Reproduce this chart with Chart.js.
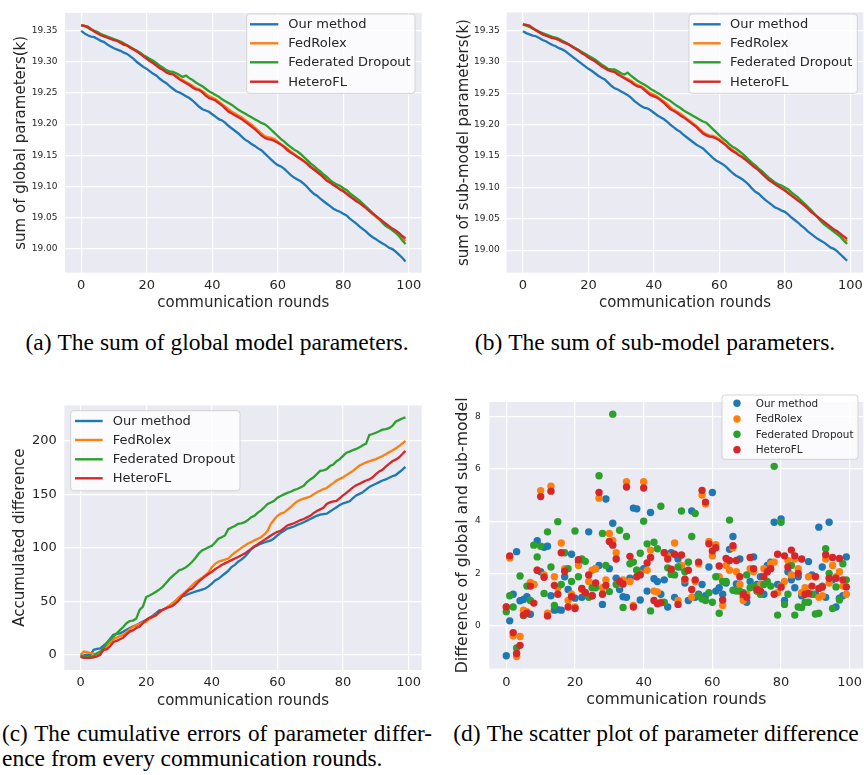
<!DOCTYPE html>
<html><head><meta charset="utf-8">
<script src="https://cdn.jsdelivr.net/npm/chart.js@4.4.0/dist/chart.umd.min.js"></script>
<style>
html,body{margin:0;padding:0;background:#fff;width:864px;height:775px;overflow:hidden;position:relative;}
canvas{position:absolute;display:block;}
.cap{position:absolute;font-family:"Liberation Serif","Times New Roman",serif;font-size:23.5px;color:#000;white-space:nowrap;line-height:25px;}
.lab{margin-right:6px;}
</style></head><body>
<canvas id="ca" width="432" height="320" style="left:0;top:0"></canvas>
<canvas id="cb" width="445" height="320" style="left:432px;top:0"></canvas>
<canvas id="cc" width="432" height="320" style="left:0;top:390px"></canvas>
<canvas id="cd" width="445" height="322" style="left:432px;top:388px"></canvas>
<div class="cap" style="left:0;width:434px;top:330px;text-align:center"><span class="lab">(a)</span>The sum of global model parameters.</div>
<div class="cap" style="left:432px;width:446px;top:330px;text-align:center"><span class="lab">(b)</span>The sum of sub-model parameters.</div>
<div class="cap" id="c1" style="left:2px;width:430px;top:721px;font-size:23.2px;text-align:justify;text-align-last:justify">(c) The cumulative errors of parameter differ-</div>
<div class="cap" style="left:2px;top:746px">ence from every communication rounds.</div>
<div class="cap" style="left:432px;width:448px;top:721px;text-align:center"><span class="lab">(d)</span>The scatter plot of parameter difference</div>
<script>
const seriesNames = ['Our method', 'FedRolex', 'Federated Dropout', 'HeteroFL'];
const seriesColors = ['#1f77b4', '#ff7f0e', '#2ca02c', '#d62728'];
const rounds = [0,1,2,3,4,5,6,7,8,9,10,11,12,13,14,15,16,17,18,19,20,21,22,23,24,25,26,27,28,29,30,31,32,33,34,35,36,37,38,39,40,41,42,43,44,45,46,47,48,49,50,51,52,53,54,55,56,57,58,59,60,61,62,63,64,65,66,67,68,69,70,71,72,73,74,75,76,77,78,79,80,81,82,83,84,85,86,87,88,89,90,91,92,93,94,95,96,97,98,99];
const xTicks = [0, 20, 40, 60, 80, 100];
const xTickLabels = ['0', '20', '40', '60', '80', '100'];
const sumTicks = [19.00, 19.05, 19.10, 19.15, 19.20, 19.25, 19.30, 19.35];
const sumTickLabels = ['19.00', '19.05', '19.10', '19.15', '19.20', '19.25', '19.30', '19.35'];
const accTicks = [0, 50, 100, 150, 200];
const accTickLabels = ['0', '50', '100', '150', '200'];
const diffTicks = [0, 2, 4, 6, 8];
const diffTickLabels = ['0', '2', '4', '6', '8'];

// (a) sum of global parameters (k)
const aOurs = [19.350,19.346,19.343,19.341,19.340,19.337,19.334,19.332,19.328,19.325,19.322,19.320,19.318,19.315,19.313,19.309,19.305,19.300,19.296,19.292,19.289,19.285,19.281,19.278,19.273,19.269,19.266,19.261,19.257,19.253,19.251,19.248,19.245,19.242,19.238,19.233,19.228,19.224,19.222,19.220,19.216,19.212,19.208,19.206,19.202,19.197,19.193,19.189,19.185,19.180,19.175,19.172,19.168,19.165,19.161,19.158,19.153,19.148,19.143,19.138,19.134,19.132,19.128,19.123,19.118,19.114,19.111,19.108,19.104,19.099,19.093,19.088,19.085,19.080,19.076,19.072,19.068,19.064,19.061,19.059,19.056,19.053,19.048,19.044,19.040,19.035,19.031,19.027,19.022,19.018,19.015,19.011,19.008,19.005,19.001,18.999,18.995,18.990,18.985,18.979];
const aFedRolex = [19.360,19.358,19.356,19.353,19.350,19.347,19.344,19.342,19.340,19.338,19.336,19.334,19.331,19.328,19.326,19.323,19.320,19.317,19.314,19.310,19.306,19.302,19.299,19.295,19.292,19.288,19.285,19.282,19.281,19.278,19.274,19.271,19.268,19.265,19.262,19.258,19.256,19.253,19.249,19.245,19.243,19.240,19.236,19.232,19.228,19.224,19.220,19.217,19.214,19.211,19.207,19.203,19.199,19.195,19.190,19.185,19.181,19.179,19.178,19.176,19.172,19.168,19.164,19.160,19.156,19.152,19.148,19.145,19.141,19.137,19.132,19.128,19.124,19.119,19.115,19.110,19.106,19.103,19.099,19.096,19.093,19.089,19.085,19.081,19.077,19.073,19.069,19.065,19.060,19.055,19.051,19.047,19.042,19.038,19.034,19.030,19.026,19.022,19.017,19.012];
const aFedDropout = [19.359,19.358,19.355,19.352,19.350,19.348,19.345,19.343,19.341,19.339,19.337,19.335,19.333,19.330,19.327,19.324,19.321,19.318,19.315,19.311,19.308,19.305,19.302,19.298,19.294,19.291,19.287,19.285,19.284,19.282,19.279,19.276,19.278,19.274,19.271,19.267,19.264,19.261,19.257,19.253,19.250,19.247,19.244,19.240,19.237,19.234,19.231,19.227,19.223,19.220,19.217,19.214,19.211,19.208,19.205,19.202,19.200,19.196,19.191,19.186,19.181,19.176,19.172,19.167,19.163,19.159,19.156,19.152,19.147,19.142,19.137,19.133,19.128,19.124,19.119,19.115,19.110,19.106,19.103,19.101,19.097,19.094,19.089,19.085,19.081,19.077,19.072,19.067,19.062,19.057,19.052,19.047,19.041,19.036,19.033,19.029,19.025,19.020,19.013,19.007];
const aHeteroFL = [19.359,19.358,19.357,19.353,19.349,19.346,19.343,19.341,19.339,19.337,19.335,19.334,19.331,19.328,19.327,19.323,19.320,19.317,19.313,19.309,19.305,19.301,19.298,19.294,19.290,19.287,19.283,19.281,19.280,19.276,19.272,19.269,19.266,19.263,19.259,19.256,19.255,19.251,19.246,19.242,19.240,19.238,19.234,19.230,19.225,19.220,19.217,19.214,19.211,19.208,19.204,19.200,19.196,19.192,19.187,19.182,19.178,19.176,19.175,19.173,19.170,19.167,19.163,19.158,19.154,19.151,19.147,19.144,19.140,19.136,19.131,19.127,19.123,19.119,19.114,19.109,19.106,19.102,19.099,19.095,19.092,19.088,19.084,19.080,19.076,19.073,19.069,19.065,19.060,19.056,19.052,19.048,19.044,19.040,19.036,19.032,19.029,19.025,19.020,19.016];

// (b) sum of sub-model parameters (k)
const bOurs = [19.349,19.346,19.344,19.342,19.341,19.338,19.335,19.333,19.330,19.327,19.325,19.322,19.320,19.317,19.313,19.309,19.305,19.301,19.297,19.293,19.289,19.286,19.282,19.278,19.275,19.272,19.267,19.262,19.258,19.256,19.253,19.250,19.247,19.243,19.238,19.234,19.230,19.227,19.226,19.223,19.219,19.215,19.212,19.209,19.205,19.200,19.196,19.192,19.189,19.184,19.180,19.176,19.172,19.168,19.165,19.162,19.157,19.152,19.147,19.143,19.140,19.137,19.133,19.128,19.123,19.119,19.116,19.113,19.109,19.104,19.098,19.093,19.090,19.085,19.080,19.076,19.072,19.068,19.066,19.063,19.061,19.057,19.052,19.048,19.044,19.039,19.035,19.030,19.026,19.022,19.018,19.015,19.012,19.008,19.004,19.002,18.998,18.993,18.988,18.983];
const bFedRolex = [19.360,19.359,19.357,19.354,19.351,19.348,19.345,19.343,19.341,19.339,19.337,19.335,19.333,19.331,19.328,19.325,19.322,19.319,19.315,19.312,19.308,19.305,19.302,19.298,19.295,19.291,19.288,19.286,19.285,19.282,19.278,19.275,19.273,19.270,19.266,19.263,19.261,19.258,19.254,19.250,19.248,19.245,19.241,19.237,19.233,19.228,19.224,19.221,19.218,19.214,19.210,19.206,19.202,19.198,19.193,19.188,19.185,19.183,19.182,19.180,19.177,19.173,19.168,19.164,19.160,19.156,19.152,19.149,19.145,19.141,19.136,19.132,19.128,19.123,19.118,19.113,19.109,19.106,19.102,19.099,19.096,19.092,19.088,19.084,19.080,19.076,19.071,19.067,19.062,19.057,19.053,19.048,19.044,19.040,19.036,19.032,19.028,19.024,19.019,19.014];
const bFedDropout = [19.360,19.358,19.356,19.353,19.351,19.348,19.346,19.344,19.342,19.340,19.339,19.337,19.334,19.331,19.328,19.325,19.322,19.319,19.316,19.313,19.310,19.307,19.304,19.300,19.296,19.293,19.289,19.288,19.288,19.285,19.282,19.280,19.283,19.278,19.274,19.270,19.267,19.264,19.261,19.257,19.254,19.251,19.248,19.244,19.241,19.238,19.234,19.230,19.227,19.223,19.220,19.217,19.214,19.211,19.208,19.205,19.203,19.198,19.193,19.188,19.183,19.178,19.174,19.169,19.165,19.162,19.158,19.154,19.149,19.144,19.139,19.135,19.130,19.126,19.121,19.116,19.112,19.108,19.105,19.103,19.100,19.097,19.092,19.088,19.084,19.079,19.074,19.069,19.064,19.058,19.052,19.046,19.041,19.037,19.033,19.029,19.025,19.021,19.015,19.010];
const bHeteroFL = [19.360,19.359,19.358,19.354,19.350,19.347,19.344,19.342,19.340,19.338,19.337,19.335,19.332,19.330,19.328,19.324,19.321,19.318,19.314,19.311,19.307,19.304,19.301,19.297,19.293,19.290,19.287,19.285,19.284,19.280,19.277,19.274,19.271,19.268,19.264,19.261,19.260,19.256,19.251,19.247,19.245,19.243,19.239,19.235,19.230,19.225,19.222,19.219,19.215,19.212,19.208,19.204,19.200,19.196,19.191,19.186,19.183,19.181,19.180,19.178,19.175,19.171,19.167,19.162,19.158,19.155,19.151,19.148,19.144,19.140,19.135,19.131,19.127,19.122,19.117,19.112,19.109,19.105,19.102,19.098,19.095,19.091,19.087,19.083,19.079,19.075,19.071,19.066,19.061,19.057,19.053,19.049,19.045,19.041,19.037,19.033,19.030,19.026,19.022,19.018];

// (c) accumulated difference
const cOurs = [-1,-0.5,0,0,4.6,5.5,6,8.5,11,15,18.6,19.5,20,21.5,23.5,25,26.5,27.5,29.5,31,32.6,34.5,36.5,39,41.5,42,43.5,45.5,48,50.5,53,54.5,55.5,57,58,59,60,61,62,64,66.6,69.5,71,73.5,76,78.5,82,84,87,89,91.5,95,99,101,102.5,104,105,106,107,109,111.6,114,116,118,119,120,121.5,122.5,124,125.5,127,128.5,130,131,131.5,132,134,136,138,140,141.7,142.5,143.6,146.5,149,150.5,152,154.5,157,158.5,160,161.5,163,164,165.5,167,168,170.5,173,175.8];
const cFedRolex = [0,3,2.5,1.5,1,0.5,2,4.6,8,11.5,14.6,16,17.5,18.6,21,24,26,28,29,30,31,33.5,35.5,37.5,39.5,42,43.5,46,48,50.5,54,56.5,59,62,65,68,70,72,74.4,77,82,85,87,88,89,90,93,95.5,97.7,100,102,104,105.5,107,108.5,110,112.5,116,122.5,126.5,130,132,133,135.5,138,141,143.5,145,146,147,148,150,152,153.5,155,156,158.5,160.5,163,164.5,166,168,170,172,174.5,177,178.5,180,181,182,183,184.5,186,187.6,189.5,191,193,195,197.5,200];
const cFedDropout = [-1,-1.5,-2.5,-2,-1,1.5,3,6,11,14,17,20,23,26,29.5,31.6,32,34,42,45,54,55.5,57,59,61,63.5,67,70.5,73.5,76,79,80,81.5,84,87,90.5,94.6,97.5,99,100.5,102,105,108.5,110,111.6,117.5,119,120.5,122.5,123,124,126,128.7,130,133,135,138,141,142.5,144,147,148.5,150,151.5,152.5,154,155,156.5,158,161.5,164,166,169,172,172.5,173.6,176.5,178,181,183,186,189,190,191.5,192.5,194,196,197.5,205.6,206.5,207.7,209,210.5,211,212,214,218,219.5,221,222];
const cHeteroFL = [-2,-3,-3,-3,-2.5,-1.5,0,4.6,5,8,12,13,14.5,16,19,21.7,23,25,26.5,29.5,32.6,34.5,35.5,37,40,42,43.5,44.5,45.6,48,51,55,58,60.5,62,65,68.5,71,73.5,75.5,77.5,80,82,84,85.5,87,88.5,90,91.5,93,94.6,97,99,101.5,103.5,105.4,107.5,109.5,111.6,113.5,115,116,118.5,121,122,123,124.5,126,127,128.5,130,132.5,134.5,136,137.5,141,142.5,143.5,144,146.5,149,151.5,154,156.6,158.5,160,161.5,163,164,166,169,171.5,173,176,178.5,181,182.5,184.5,187.5,190.7];

// (d) difference of global and sub-model per round
const dOurs = [-1.16,0.18,1.2,2.83,0.95,1.0,1.1,0.43,1.57,3.25,2.06,3.0,3.04,1.14,0.59,0.61,0.59,1.87,1.38,2.73,1.05,2.43,1.08,1.2,3.59,1.14,2.18,2.3,0.81,4.85,2.18,3.92,1.81,1.38,1.1,1.08,1.81,4.5,4.47,0.98,2.18,1.32,4.33,1.79,1.69,1.2,1.75,0.71,2.79,1.08,2.55,2.24,1.63,0.96,4.39,1.08,1.2,1.57,1.14,2.24,5.1,1.32,1.45,1.2,1.63,2.92,3.41,1.59,2.55,1.08,0.89,1.69,2.63,1.57,1.87,1.2,2.3,2.43,3.96,1.57,4.08,0.96,2.06,1.75,1.45,1.87,1.14,1.32,2.45,1.94,1.2,3.77,2.24,1.08,3.96,1.75,0.71,1.05,1.14,2.63];
const dFedRolex = [0.71,2.59,-0.39,-1.19,-0.42,0.59,0.53,1.65,1.57,2.12,5.17,1.94,0.47,5.34,1.87,1.45,3.16,2.18,0.96,1.2,0.71,2.3,1.38,1.26,1.69,2.12,2.18,4.88,1.45,1.75,3.53,3.26,2.79,1.57,1.75,5.51,1.69,0.77,2.12,2.0,5.51,2.12,2.89,1.32,1.29,0.89,2.79,2.67,2.12,3.16,0.96,2.3,1.75,2.43,1.08,1.69,2.37,5.0,4.66,3.22,2.67,3.1,1.87,0.77,2.3,2.12,2.98,2.06,1.57,0.96,1.2,2.18,2.06,1.32,1.57,2.18,2.06,2.37,2.43,1.26,1.51,1.69,2.49,1.94,2.55,2.18,1.26,1.45,1.87,1.2,1.87,1.08,1.14,2.55,1.63,2.3,1.87,2.06,1.51,1.2];
const dFedDropout = [0.53,1.14,0.71,-0.86,1.9,0.38,1.51,0.96,3.08,2.63,3.04,1.23,3.59,2.24,0.77,3.98,1.57,2.79,2.18,1.69,3.62,1.87,2.55,2.46,1.08,1.45,1.45,5.74,3.53,2.3,1.3,8.1,1.57,3.65,0.69,3.41,2.37,2.43,2.12,2.77,4.0,3.13,0.56,3.19,2.94,4.57,0.89,2.21,1.96,1.94,2.24,4.39,2.06,2.43,3.41,4.29,1.14,1.02,0.96,1.26,0.89,1.87,0.47,1.69,1.69,4.04,1.35,1.32,1.32,1.26,1.94,1.45,1.51,1.32,1.2,1.57,1.69,1.51,6.1,0.4,3.96,0.81,1.2,2.3,0.4,0.71,0.69,0.89,0.89,1.2,0.44,0.47,1.51,2.94,2.0,0.65,1.48,0.98,2.37,1.75];
const dHeteroFL = [0.71,2.67,-0.27,-1.07,-0.76,0.4,0.47,1.51,0.86,2.12,4.94,1.85,0.37,5.15,1.54,1.2,2.79,2.08,0.71,1.1,0.65,2.52,1.42,1.26,1.94,1.14,1.63,5.1,1.2,1.54,3.22,3.08,2.55,1.69,1.59,5.31,2.65,0.71,1.87,1.94,5.27,2.4,2.61,0.96,0.83,0.87,2.79,2.55,2.16,2.73,0.81,2.7,1.78,2.12,1.38,1.75,2.43,5.18,4.73,3.13,2.86,2.98,2.28,0.98,2.57,2.49,3.06,2.49,1.87,1.2,1.08,2.61,2.18,1.38,1.32,1.87,2.06,2.18,1.2,2.73,1.47,2.67,2.24,2.89,2.67,2.0,2.55,1.2,1.23,1.51,1.87,1.42,1.47,2.71,1.81,2.61,1.81,2.57,1.75,1.48];

// keep the justified caption line inside its column
(function fitLine() {
  const el = document.getElementById('c1');
  let fs = 23.2;
  while (el.scrollWidth > el.clientWidth && fs > 20) { fs -= 0.2; el.style.fontSize = fs + 'px'; }
})();

const FONT = '"DejaVu Sans", "Liberation Sans", sans-serif';
const INK = '#262626';
Chart.defaults.font.family = FONT;
Chart.defaults.color = INK;

function rr(ctx, x, y, w, h, r) {
  ctx.beginPath();
  ctx.moveTo(x + r, y);
  ctx.lineTo(x + w - r, y); ctx.quadraticCurveTo(x + w, y, x + w, y + r);
  ctx.lineTo(x + w, y + h - r); ctx.quadraticCurveTo(x + w, y + h, x + w - r, y + h);
  ctx.lineTo(x + r, y + h); ctx.quadraticCurveTo(x, y + h, x, y + h - r);
  ctx.lineTo(x, y + r); ctx.quadraticCurveTo(x, y, x + r, y);
  ctx.closePath();
}

const bgPlugin = {
  id: 'darkgridBg',
  beforeDraw(chart) {
    const a = chart.chartArea, ctx = chart.ctx;
    ctx.save();
    ctx.fillStyle = '#EAEAF2';
    ctx.fillRect(a.left, a.top, a.right - a.left, a.bottom - a.top);
    ctx.restore();
  }
};

const legendPlugin = {
  id: 'mplLegend',
  afterDraw(chart, args, o) {
    if (!o || !o.box) return;
    const ctx = chart.ctx, b = o.box;
    ctx.save();
    rr(ctx, b.x, b.y, b.w, b.h, 3);
    ctx.fillStyle = 'rgba(255,255,255,0.8)';
    ctx.fill();
    ctx.strokeStyle = 'rgba(204,204,204,0.8)';
    ctx.lineWidth = 1;
    ctx.stroke();
    ctx.font = o.fontSize + 'px ' + FONT;
    ctx.textBaseline = 'middle';
    ctx.textAlign = 'left';
    chart.data.datasets.forEach((ds, i) => {
      const y = o.rows[i];
      if (o.kind === 'line') {
        ctx.strokeStyle = ds.borderColor;
        ctx.lineWidth = 2.4;
        ctx.beginPath(); ctx.moveTo(o.h0, y); ctx.lineTo(o.h1, y); ctx.stroke();
      } else {
        ctx.fillStyle = ds.backgroundColor;
        ctx.beginPath(); ctx.arc(o.mx, y, o.r, 0, Math.PI * 2); ctx.fill();
      }
      ctx.fillStyle = INK;
      ctx.fillText(ds.label, o.tx, y + 0.5);
    });
    ctx.restore();
  }
};

function xScale(o) {
  return {
    type: 'linear', min: -4.95, max: 103.95,
    afterBuildTicks: s => { s.ticks = xTicks.map(v => ({ value: v })); },
    afterFit: s => { s.height = o.h; },
    ticks: { font: { size: 13 }, color: INK, padding: o.tp, maxRotation: 0, autoSkip: false,
      callback: (v, i) => xTickLabels[i] },
    grid: { color: '#ffffff', lineWidth: 1.2, drawTicks: false },
    border: { display: false },
    title: { display: true, text: 'communication rounds', color: INK,
      font: { size: o.tf, lineHeight: 1.2 }, padding: { top: 0, bottom: o.tpb } }
  };
}
function yScale(o) {
  return {
    type: 'linear', min: o.min, max: o.max,
    afterBuildTicks: s => { s.ticks = o.ticks.map(v => ({ value: v })); },
    afterFit: s => { s.width = o.w; },
    ticks: { font: { size: o.fs }, color: INK, padding: o.tp, autoSkip: false,
      callback: (v, i) => o.labels[i] },
    grid: { color: '#ffffff', lineWidth: 1.2, drawTicks: false },
    border: { display: false },
    title: { display: true, text: o.title, color: INK,
      font: { size: o.tf, lineHeight: 1.2 }, padding: { top: o.tpt, bottom: 0 } }
  };
}
function lineSets(lists) {
  return lists.map((vals, k) => ({
    label: seriesNames[k],
    data: rounds.map((r, i) => ({ x: r, y: vals[i] })),
    borderColor: seriesColors[k], backgroundColor: seriesColors[k],
    borderWidth: 2.3, pointRadius: 0, tension: 0, fill: false, order: 4 - k
  }));
}
function dotSets(lists) {
  return lists.map((vals, k) => ({
    label: seriesNames[k],
    data: rounds.map((r, i) => ({ x: r, y: vals[i] })),
    backgroundColor: seriesColors[k], borderColor: seriesColors[k],
    pointRadius: 3.7, pointBorderWidth: 0, pointHoverRadius: 3.7, order: 4 - k
  }));
}
function baseOpts(pad, scales, leg) {
  return {
    responsive: false, animation: false, events: [],
    layout: { padding: pad },
    plugins: { legend: { display: false }, tooltip: { enabled: false }, mplLegend: leg },
    scales: scales
  };
}

new Chart(document.getElementById('ca'), {
  type: 'line',
  data: { datasets: lineSets([aOurs, aFedRolex, aFedDropout, aHeteroFL]) },
  options: baseOpts({ left: 0, top: 7, right: 10.3, bottom: 0 }, {
    x: xScale({ h: 47.3, tp: 5.2, tf: 15, tpb: 7.7 }),
    y: yScale({ min: 18.961, max: 19.379, ticks: sumTicks, labels: sumTickLabels, w: 65, fs: 9, tp: 7.5,
      title: 'sum of global parameters(k)', tf: 15, tpt: 12 })
  }, { box: { x: 246.7, y: 14, w: 168.3, h: 79.3 }, kind: 'line', h0: 250, h1: 278.3, tx: 288.3,
       rows: [24.3, 43.3, 62.3, 81.7], fontSize: 13 }),
  plugins: [bgPlugin, legendPlugin]
});

new Chart(document.getElementById('cb'), {
  type: 'line',
  data: { datasets: lineSets([bOurs, bFedRolex, bFedDropout, bHeteroFL]) },
  options: baseOpts({ left: 0, top: 7, right: 13.7, bottom: 0 }, {
    x: xScale({ h: 47.3, tp: 5.2, tf: 15, tpb: 7.7 }),
    y: yScale({ min: 18.964, max: 19.379, ticks: sumTicks, labels: sumTickLabels, w: 74.7, fs: 9, tp: 7,
      title: 'sum of sub-model parameters(k)', tf: 15, tpt: 23.2 })
  }, { box: { x: 257, y: 14, w: 168.3, h: 79.3 }, kind: 'line', h0: 261.3, h1: 288.7, tx: 298,
       rows: [24.3, 43.3, 62.3, 81.7], fontSize: 13 }),
  plugins: [bgPlugin, legendPlugin]
});

new Chart(document.getElementById('cc'), {
  type: 'line',
  data: { datasets: lineSets([cOurs, cFedRolex, cFedDropout, cHeteroFL]) },
  options: baseOpts({ left: 0, top: 14, right: 10.3, bottom: 0 }, {
    x: xScale({ h: 40, tp: 5.2, tf: 15, tpb: 0.3 }),
    y: yScale({ min: -14.25, max: 233.25, ticks: accTicks, labels: accTickLabels, w: 64.3, fs: 13, tp: 7.6,
      title: 'Accumulated difference', tf: 15, tpt: 10.7 })
  }, { box: { x: 70.7, y: 20.7, w: 169.3, h: 80 }, kind: 'line', h0: 75, h1: 102.7, tx: 112.7,
       rows: [31, 50, 69.3, 88.3], fontSize: 13 }),
  plugins: [bgPlugin, legendPlugin]
});

new Chart(document.getElementById('cd'), {
  type: 'scatter',
  data: { datasets: dotSets([dOurs, dFedRolex, dFedDropout, dHeteroFL]) },
  options: baseOpts({ left: 0, top: 2, right: 13.7, bottom: 0 }, {
    x: xScale({ h: 41.3, tp: 5.8, tf: 15.7, tpb: 0.6 }),
    y: yScale({ min: -1.654, max: 8.565, ticks: diffTicks, labels: diffTickLabels, w: 57.3, fs: 9, tp: 8.6,
      title: 'Difference of global and sub-model', tf: 15.7, tpt: 21.6 })
  }, { box: { x: 290, y: 7, w: 136, h: 64.3 }, kind: 'dot', mx: 305, r: 3.7, tx: 323.7,
       rows: [15.3, 31, 46.3, 61.7], fontSize: 10.4 }),
  plugins: [bgPlugin, legendPlugin]
});
</script>
</body></html>
